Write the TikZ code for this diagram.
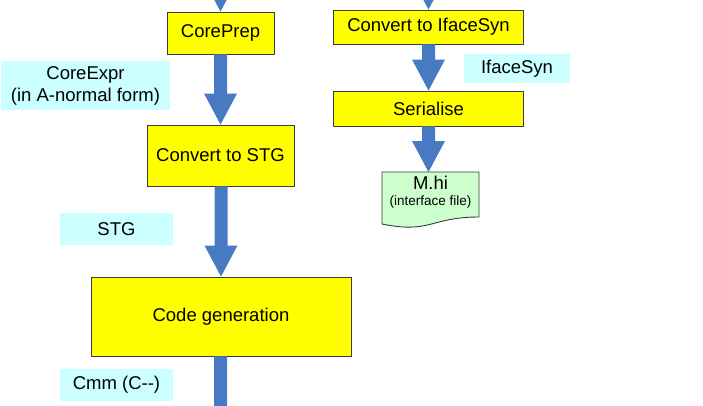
\documentclass[tikz,border=0pt]{standalone}
\usepackage{fontspec}
\setmainfont{Liberation Sans}
\usetikzlibrary{calc}
\definecolor{boxyellow}{RGB}{255,255,0}
\definecolor{labelcyan}{RGB}{204,255,255}
\definecolor{docgreen}{RGB}{204,255,204}
\definecolor{arrowblue}{RGB}{72,122,196}
\definecolor{boxedge}{RGB}{60,60,60}
\newcommand{\blockarrow}[2]{%
  \path (#1) coordinate (ba-s0) (#2) coordinate (ba-e);
  \path (ba-e |- ba-s0) coordinate (ba-s);
  \fill[arrowblue] ($(ba-s)+(-6.5,0)$) -- ($(ba-e)+(-6.5,-31)$) -- ($(ba-e)+(-16.5,-31)$) -- (ba-e)
    -- ($(ba-e)+(16.5,-31)$) -- ($(ba-e)+(6.5,-31)$) -- ($(ba-s)+(6.5,0)$) -- cycle;}
\begin{document}
\begin{tikzpicture}[x=1pt,y=-1pt,
  stagebox/.style={draw=boxedge,line width=0.9pt,fill=boxyellow,inner sep=0pt,
    font=\fontsize{18.5}{22}\selectfont},
  labelbox/.style={fill=labelcyan,inner sep=0pt,align=center,
    font=\fontsize{18.5}{22}\selectfont}]
\useasboundingbox (0,0) rectangle (703,405);
\clip (0,0) rectangle (703,405);
% stages
\node[stagebox,minimum width=107pt,minimum height=42pt] (coreprep) at (220.5,33) {CorePrep};
\node[stagebox,minimum width=147pt,minimum height=61pt] (tostg) at (220.5,155.5) {Convert to STG};
\node[stagebox,minimum width=260pt,minimum height=79pt] (codegen) at (221,316.5) {Code generation};
\node[stagebox,minimum width=190pt,minimum height=34pt] (toiface) at (428.5,27) {Convert to IfaceSyn};
\node[stagebox,minimum width=190pt,minimum height=35pt] (serialise) at (428.5,108.5) {Serialise};
% labels
\node[labelbox,minimum width=169pt,minimum height=49pt] (coreexpr) at (85.5,85.5) {CoreExpr\\(in A-normal form)};
\node[labelbox,minimum width=113pt,minimum height=32pt] (stg) at (116.5,229) {STG};
\node[labelbox,minimum width=113pt,minimum height=32pt] (cmm) at (116.5,385) {Cmm (C{-}{-})};
\node[labelbox,minimum width=106pt,minimum height=29pt] (ifacesyn) at (517,68.5) {IfaceSyn};
% document shape
\coordinate (docnw) at (382,172);
\coordinate (docne) at (479,172);
\coordinate (docse) at (479,217);
\coordinate (docsw) at (382,224);
\filldraw[fill=docgreen,draw=boxedge,line width=0.9pt] (docnw) -- (docne) -- (docse)
  .. controls (430.5,217) and (430.5,234) .. (docsw) -- cycle;
\node[align=center,inner sep=0pt] (mhi) at (430.5,192)
  {{\fontsize{18.5}{22}\selectfont M.hi}\\[4.5pt]{\fontsize{13.5}{16}\selectfont (interface file)}};
% connectors
\coordinate (inleft) at (220.5,-60);
\coordinate (inright) at (428.5,-60);
\coordinate (outleft) at (220.5,450);
\blockarrow{inleft}{coreprep.north}
\blockarrow{coreprep.south}{tostg.north}
\blockarrow{tostg.south}{codegen.north}
\blockarrow{codegen.south}{outleft}
\blockarrow{inright}{toiface.north}
\blockarrow{toiface.south}{serialise.north}
\blockarrow{serialise.south}{docnw -| serialise.south}
\end{tikzpicture}
\end{document}
